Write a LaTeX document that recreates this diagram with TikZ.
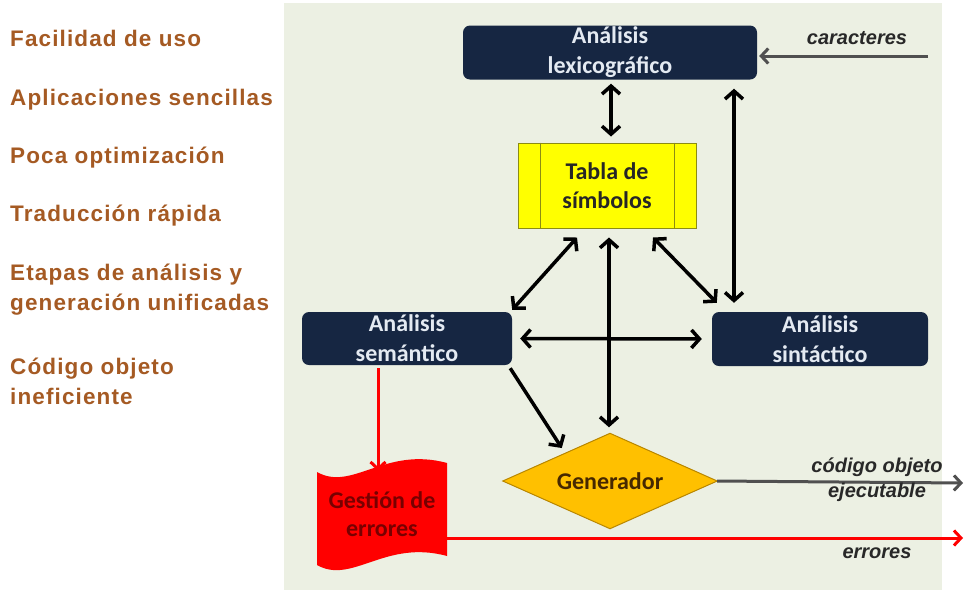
\documentclass[tikz,border=0pt]{standalone}
\usepackage{fontspec}
\setmainfont{Liberation Sans}
\newfontfamily\boxfont{Carlito}
\usetikzlibrary{arrows.meta,calc}
\definecolor{navy}{RGB}{22,38,66}
\definecolor{boxtext}{RGB}{228,234,242}
\definecolor{panel}{RGB}{236,240,227}
\definecolor{brownt}{RGB}{165,90,35}
\definecolor{lblgray}{RGB}{40,40,40}
\definecolor{tabfill}{RGB}{255,255,0}
\definecolor{tabline}{RGB}{140,140,20}
\definecolor{genfill}{RGB}{255,192,0}
\definecolor{genline}{RGB}{185,135,0}
\definecolor{gentext}{RGB}{70,40,0}
\definecolor{gred}{RGB}{255,0,0}
\definecolor{gtext}{RGB}{120,0,0}
\definecolor{arrgray}{RGB}{80,80,80}
\tikzset{
  box/.style={fill=navy, rounded corners=7pt, text=boxtext, font=\boxfont\bfseries\fontsize{24}{30}\selectfont, align=center, inner sep=0pt},
  biarr/.style={line width=3.5pt, {Straight Barb[length=8pt,width=18pt]}-{Straight Barb[length=8pt,width=18pt]}},
  arr/.style={line width=3.5pt, -{Straight Barb[length=8pt,width=18pt]}},
  grayarr/.style={line width=3pt, draw=arrgray, -{Straight Barb[length=7pt,width=15pt]}},
  redarr/.style={line width=3pt, draw=gred, -{Straight Barb[length=7pt,width=15pt]}},
  side/.style={anchor=west, text=brownt, font=\bfseries\fontsize{22.5}{30}\selectfont\addfontfeature{LetterSpace=5}, align=left, inner sep=0pt},
  lbl/.style={font=\bfseries\itshape\fontsize{20}{25}\selectfont, text=lblgray, inner sep=0pt}
}
\begin{document}
\begin{tikzpicture}[x=1pt,y=-1pt]
\useasboundingbox (0,0) rectangle (968,592);
\fill[white] (0,0) rectangle (968,592);
\fill[panel] (284,3) rectangle (942,590);

% left column
\node[side] (t1) at (10,38) {Facilidad de uso};
\node[side] (t2) at (10,100) {Aplicaciones sencillas};
\node[side] (t3) at (10,158) {Poca optimización};
\node[side] (t4) at (10,216) {Traducción rápida};
\node[side] (t5) at (10,290) {Etapas de análisis y\\generación unificadas};
\node[side] (t6) at (10,381) {Código objeto\\ineficiente};

% boxes
\node[box, minimum width=294pt, minimum height=54pt] (lex) at (610,52.5) {Análisis\\lexicográfico};
\node[box, minimum width=210pt, minimum height=53pt] (sem) at (407,338.5) {Análisis\\semántico};
\node[box, minimum width=216pt, minimum height=54pt] (sint) at (820,339) {Análisis\\sintáctico};

\node[fill=tabfill, draw=tabline, line width=1pt, minimum width=178pt, minimum height=85pt, inner sep=0pt, align=center,
      font=\boxfont\bfseries\fontsize{24}{29}\selectfont, text=black!85] (tabla) at (607,185.5) {Tabla de\\símbolos};
\draw[tabline, line width=1pt] ($(tabla.north west)+(23,0)$) -- ($(tabla.south west)+(23,0)$);
\draw[tabline, line width=1pt] ($(tabla.north east)+(-22,0)$) -- ($(tabla.south east)+(-22,0)$);

\node[minimum width=214pt, minimum height=95pt, inner sep=0pt] (gen) at (610,481) {};
\filldraw[fill=genfill, draw=genline, line width=1pt] (gen.west) -- (gen.north) -- (gen.east) -- (gen.south) -- cycle;
\node[font=\boxfont\bfseries\fontsize{24}{29}\selectfont, text=gentext, inner sep=0pt] (gentxt) at (gen.center) {Generador};

% Gestion de errores
\fill[gred] (317,472) .. controls (352,492) and (385,446) .. (447,463) -- (447,556) .. controls (385,539) and (352,585) .. (317,565) -- cycle;
\node[minimum width=130pt, minimum height=93pt, inner sep=0pt, align=center, text=gtext,
      font=\boxfont\bfseries\fontsize{24}{28}\selectfont] (gest) at (382,514) {Gestión de\\errores};

% coordinates
\coordinate (xr) at (734,0);
\coordinate (carst) at (928,56);
\coordinate (gtop) at (378,471);
\coordinate (errend) at (963,538);
\coordinate (codend) at (963,483);

% black arrows
\draw[biarr, shorten <=4pt, shorten >=6pt] (lex.south -| 611,0) -- (tabla.north -| 611,0);
\draw[biarr, shorten <=9pt, shorten >=9pt] (lex.south -| xr) -- (sint.north -| xr);
\draw[biarr] ($(tabla.south)+(-30,9)$) -- ($(sem.north east)+(0,-2)$);
\draw[biarr] ($(tabla.south)+(46,9)$) -- ($(sint.north west)+(5,-9)$);
\draw[biarr, shorten <=9pt, shorten >=6pt] (tabla.south -| 609,0) -- (gen.north -| 609,0);
\draw[biarr, shorten <=8pt, shorten >=10pt] (sem.east) -- (sint.west);
\draw[arr] ($(sem.south east)+(-2,3)$) -- ($(gen.west)+(59,-33)$);

% gray arrows
\draw[grayarr, shorten >=2pt] (carst) -- (carst -| lex.east);
\draw[grayarr] (gen.east) -- (codend);

% red arrows
\draw[redarr, shorten <=3pt] (sem.south -| gtop) -- (gtop);
\draw[redarr] (gest.east |- errend) -- (errend);

% labels
\node[lbl] (lcar) at (857,38) {caracteres};
\node[lbl] (lcod1) at (877,467) {código objeto};
\node[lbl] (lcod2) at (877,492) {ejecutable};
\node[lbl] (lerr) at (877,553) {errores};
\end{tikzpicture}
\end{document}
